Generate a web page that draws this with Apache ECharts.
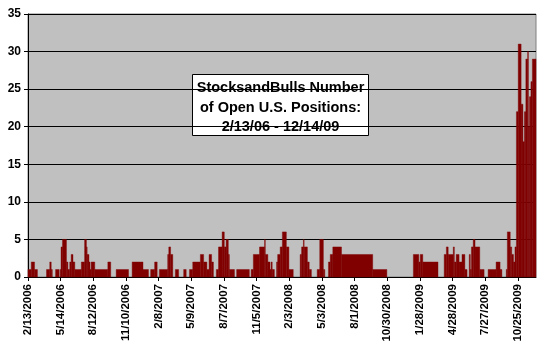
<!DOCTYPE html>
<html>
<head>
<meta charset="utf-8">
<script src="https://cdn.jsdelivr.net/npm/echarts@6/dist/echarts.min.js"></script>
<style>html,body{margin:0;padding:0;background:#fff;}#c{width:550px;height:350px;}</style>
</head>
<body>
<div id="c"></div>
<script>
// Data
const startDate = [2006, 2, 13];   // 2/13/2006
const totalDays = 1400;            // through 12/14/2009
// Day offsets (from 2/13/2006) at which the number of open positions changes
const changeDay = [0,9,18,26,51,60,64,67,76,86,89,91,95,106,110,115,119,124,129,147,
  156,161,163,168,171,174,184,220,228,243,277,287,317,332,338,349,356,362,385,388,
  393,399,406,415,429,436,445,454,475,484,493,499,506,511,519,525,535,541,546,552,
  555,569,575,610,615,621,638,652,654,661,667,670,673,679,685,688,695,701,712,719,
  731,750,754,759,761,770,775,781,797,804,814,818,828,833,840,864,950,989,1062,1077,
  1081,1088,1130,1147,1153,1158,1172,1175,1180,1188,1196,1204,1210,1216,1219,1222,1227,1232,1245,1257,
  1268,1290,1301,1306,1318,1321,1329,1333,1338,1342,1346,1351,1359,1364,1368,1372,1377,1379,1382,1386,
  1390];
// Number of open positions from that day on
const changeValue = [1,2,1,0,1,2,1,0,1,0,1,4,5,2,1,2,3,2,1,2,
  5,4,3,2,1,2,1,2,0,1,0,2,1,0,1,2,0,1,3,4,
  3,0,1,0,1,0,1,2,3,2,1,3,2,0,1,4,6,4,5,3,
  1,0,1,0,1,3,4,5,3,2,1,2,1,0,2,3,4,6,4,1,
  0,3,4,5,4,2,1,0,1,5,1,0,2,3,4,3,1,0,3,2,
  3,2,0,3,4,3,4,2,3,2,3,1,0,3,1,4,5,4,1,0,
  1,2,1,0,1,6,4,3,2,4,22,31,23,18,22,29,30,20,24,26,
  29];
const yTicks = [0, 5, 10, 15, 20, 25, 30, 35];
const titleLines = ['StocksandBulls Number', 'of Open U.S. Positions:', '2/13/06 - 12/14/09'];

// Daily date categories
const categories = [];
const t0 = Date.UTC(startDate[0], startDate[1] - 1, startDate[2]);
for (let d = 0; d <= totalDays; d++) {
  const dt = new Date(t0 + d * 86400000);
  categories.push((dt.getUTCMonth() + 1) + '/' + dt.getUTCDate() + '/' + dt.getUTCFullYear());
}
// Runs: [fromDay, toDay, value]
const runs = [];
for (let k = 0; k < changeDay.length; k++) {
  const to = k + 1 < changeDay.length ? changeDay[k + 1] : totalDays;
  if (changeValue[k] > 0) runs.push([changeDay[k], to, changeValue[k]]);
}

const chart = echarts.init(document.getElementById('c'), null, {renderer: 'canvas'});
const font = 'Arial, "Liberation Sans", sans-serif';
chart.setOption({
  animation: false,
  backgroundColor: '#ffffff',
  grid: {
    left: 28, right: 14, top: 14, bottom: 73,
    show: true, backgroundColor: '#c0c0c0', borderColor: '#808080', borderWidth: 1
  },
  xAxis: {
    type: 'category',
    data: categories,
    boundaryGap: false,
    axisLine: {show: true, lineStyle: {color: '#000', width: 1}},
    axisTick: {show: true, interval: 89, length: 4, lineStyle: {color: '#000'}},
    axisLabel: {
      interval: 89, rotate: 90, margin: 7, color: '#000',
      fontFamily: font, fontSize: 11.5, fontWeight: 'bold'
    },
    splitLine: {show: false}
  },
  yAxis: {
    type: 'value',
    min: yTicks[0], max: yTicks[yTicks.length - 1], interval: 5,
    axisLine: {show: true, lineStyle: {color: '#000', width: 1}},
    axisTick: {show: true, length: 4, lineStyle: {color: '#000'}},
    axisLabel: {color: '#000', fontFamily: font, fontSize: 12, fontWeight: 'bold', margin: 7},
    splitLine: {show: true, lineStyle: {color: '#000', width: 1}}
  },
  series: [{
    type: 'custom',
    data: runs,
    encode: {x: [0, 1], y: 2},
    z: 3,
    renderItem: function (params, api) {
      const a = api.coord([api.value(0), api.value(2)]);
      const b = api.coord([api.value(1), 0]);
      return {
        type: 'rect',
        shape: {x: a[0], y: a[1], width: b[0] - a[0], height: b[1] - a[1]},
        style: {fill: '#800000', stroke: '#800000', lineWidth: 0.4}
      };
    }
  }],
  graphic: [{
    type: 'group',
    left: 192, top: 74,
    z: 100,
    children: [{
      type: 'rect',
      shape: {x: 0, y: 0, width: 176, height: 61},
      style: {fill: '#ffffff', stroke: '#000000', lineWidth: 1}
    }, {
      type: 'text',
      x: 88, y: 33,
      style: {
        text: titleLines.join('\n'),
        fill: '#000', font: 'bold 14.5px ' + font,
        align: 'center', verticalAlign: 'middle', lineHeight: 19.5
      }
    }]
  }]
});
</script>
</body>
</html>
